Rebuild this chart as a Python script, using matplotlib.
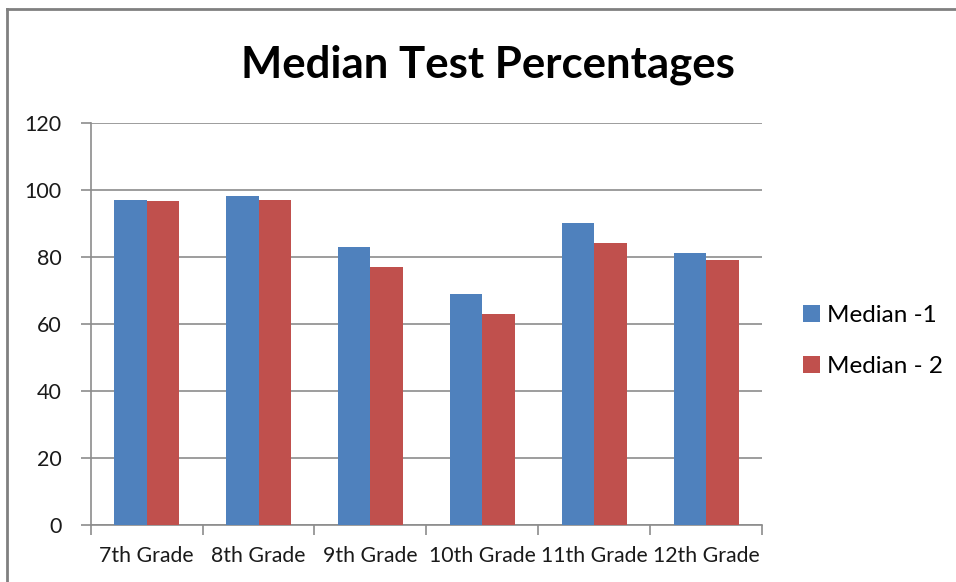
import matplotlib

matplotlib.use("Agg")
import matplotlib.pyplot as plt
from matplotlib.lines import Line2D
import numpy as np

grades = ["7th Grade", "8th Grade", "9th Grade", "10th Grade", "11th Grade", "12th Grade"]
median_1 = [97, 98, 83, 69, 90, 81]
median_2 = [96.5, 97, 77, 63, 84, 79]
y_ticks = [0, 20, 40, 60, 80, 100, 120]

BLUE = "#4f81bd"
RED = "#c0504d"
GRID = "#8c8c8c"
FONT = "Lato"

fig = plt.figure(figsize=(9.56, 5.82), dpi=100)
W, H = 956, 582
ax = fig.add_axes([90.7 / W, 1 - 525 / H, (762 - 90.7) / W, (525 - 122.7) / H])

x = np.arange(len(grades)) + 0.5
bw = 0.29
ax.bar(x - bw / 2, median_1, bw, color=BLUE, label="Median -1", zorder=3)
ax.bar(x + bw / 2, median_2, bw, color=RED, label="Median - 2", zorder=3)

ax.set_xlim(0, len(grades))
ax.set_ylim(0, 120)
ax.set_yticks(y_ticks)
ax.set_yticklabels([str(v) for v in y_ticks], fontsize=15.5, family=FONT, color="#1a1a1a")
ax.yaxis.grid(True, color=GRID, linewidth=1.2, zorder=0)
ax.set_axisbelow(True)

# category labels centred, tick marks at the boundaries
ax.set_xticks(np.arange(len(grades) + 1))
ax.set_xticklabels([])
ax.set_xticks(x, minor=True)
ax.set_xticklabels(grades, minor=True, fontsize=15.3, family=FONT, color="#1a1a1a")
ax.tick_params(axis="x", which="major", length=7, color=GRID, width=1.2)
ax.tick_params(axis="x", which="minor", length=0, pad=15)
ax.tick_params(axis="y", length=7, color=GRID, width=1.2, pad=14)

for side in ("top", "right"):
    ax.spines[side].set_visible(False)
for side in ("left", "bottom"):
    ax.spines[side].set_color(GRID)
    ax.spines[side].set_linewidth(1.2)

fig.text(488 / W, 1 - 65 / H, "Median Test Percentages", ha="center", va="center",
         fontsize=31.5, fontweight="bold", family=FONT, color="black")

ax.legend(loc="center left", bbox_to_anchor=(793 / W, 1 - 341 / H),
          bbox_transform=fig.transFigure, frameon=False, borderaxespad=0,
          prop={"family": FONT, "size": 17.5}, handlelength=0.7, handleheight=0.7,
          handletextpad=0.3, labelspacing=1.2)

# chart frame (only left and top edges show in the crop)
fig.add_artist(Line2D([7 / W, 7 / W], [0, 1 - 9 / H], transform=fig.transFigure,
                      color="#808080", linewidth=2))
fig.add_artist(Line2D([7 / W, 1], [1 - 9 / H, 1 - 9 / H], transform=fig.transFigure,
                      color="#808080", linewidth=2))

fig.savefig("out.png", dpi=100)
